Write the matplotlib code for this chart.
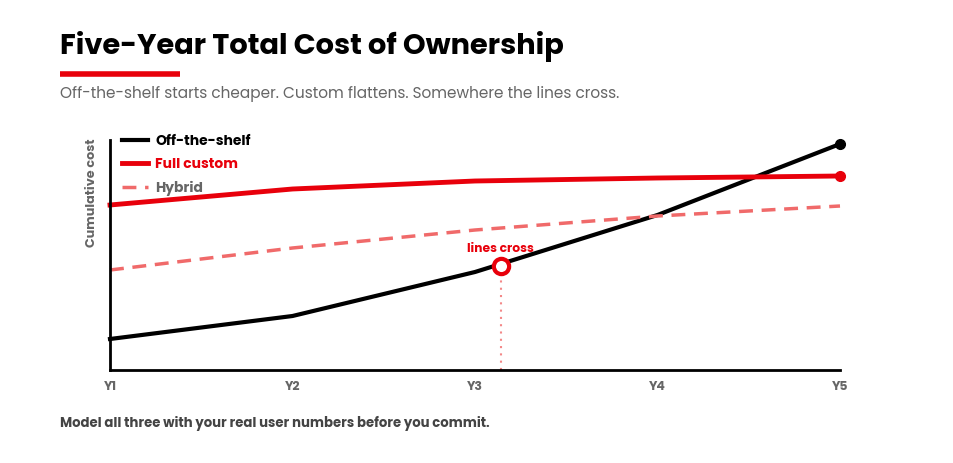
import matplotlib.pyplot as plt
from matplotlib.lines import Line2D

years = ["Y1", "Y2", "Y3", "Y4", "Y5"]
off_the_shelf = [31, 54, 98, 155, 226]
full_custom = [165, 181, 189, 192, 194]
hybrid = [100, 122, 140, 154, 164]
cross_x = 2.14
cross_y = 104

FONT = ["Poppins", "Inter", "DejaVu Sans"]
plt.rcParams["font.family"] = FONT

RED = "#e8000b"
PINK = "#f06a6a"
GRAY = "#666666"

fig = plt.figure(figsize=(9.54, 4.63), dpi=100)
fig.patch.set_facecolor("white")

fig.text(60 / 954, 1 - 46 / 463, "Five-Year Total Cost of Ownership",
         fontsize=20.8, fontweight="bold", color="black", va="center", ha="left")
fig.add_artist(Line2D([60 / 954, 180 / 954], [1 - 74 / 463, 1 - 74 / 463],
                      color=RED, lw=4, transform=fig.transFigure, solid_capstyle="butt"))
fig.text(60 / 954, 1 - 94 / 463,
         "Off-the-shelf starts cheaper. Custom flattens. Somewhere the lines cross.",
         fontsize=11.05, color=GRAY, va="center", ha="left")
fig.text(60 / 954, 1 - 423 / 463,
         "Model all three with your real user numbers before you commit.",
         fontsize=9.5, fontweight="bold", color="#444444", va="center", ha="left")

ax = fig.add_axes([110 / 954, 93 / 463, 730 / 954, 230 / 463])
x = range(len(years))

ax.plot(x, off_the_shelf, color="black", lw=3, clip_on=False, label="Off-the-shelf",
        solid_joinstyle="round")
ax.plot([x[-1]], [off_the_shelf[-1]], "o", color="black", ms=7, clip_on=False)
ax.plot(x, full_custom, color=RED, lw=3.5, clip_on=False, label="Full custom")
ax.plot([x[-1]], [full_custom[-1]], "o", color=RED, ms=7, clip_on=False)
ax.plot(x, hybrid, color=PINK, lw=2.5, ls=(0, (4, 2.5)), clip_on=False, label="Hybrid")

ax.plot([cross_x, cross_x], [0, cross_y], color=PINK, lw=1.5, ls=(0, (1, 2.5)), alpha=0.8)
ax.plot([cross_x], [cross_y], "o", ms=11, mfc="white", mec=RED, mew=3, zorder=5)
ax.annotate("lines cross", (cross_x, cross_y), xytext=(0, 12.5), textcoords="offset points",
            ha="center", va="center", fontsize=8.8, fontweight="bold", color=RED)

ax.set_xlim(0, 4)
ax.set_ylim(0, 230)
ax.set_xticks(list(x))
ax.set_xticklabels(years, fontsize=9, fontweight="bold", color=GRAY)
ax.tick_params(axis="x", length=0, pad=8)
ax.set_yticks([])
ax.set_ylabel("Cumulative cost", fontsize=9.2, fontweight="bold", color=GRAY)
ax.yaxis.set_label_coords(-0.016, 0.77)
for s in ["top", "right"]:
    ax.spines[s].set_visible(False)
for s in ["left", "bottom"]:
    ax.spines[s].set_linewidth(2)

leg = ax.legend(loc="upper left", bbox_to_anchor=(0.0, 1.075), frameon=False,
                handlelength=1.8, handletextpad=0.55, labelspacing=0.62,
                prop={"size": 10, "weight": "bold"})
for txt, c in zip(leg.get_texts(), ["black", RED, GRAY]):
    txt.set_color(c)

fig.savefig("out.png", dpi=100)
